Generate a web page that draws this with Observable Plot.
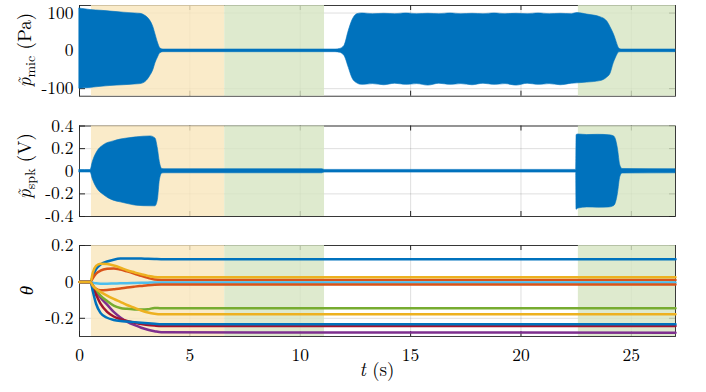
<!DOCTYPE html>
<html><head><meta charset="utf-8">
<script src="https://cdn.jsdelivr.net/npm/d3@7"></script>
<script src="https://cdn.jsdelivr.net/npm/@observablehq/plot@0.6"></script>
<style>
body{margin:0;background:#fff;}
#chart{position:relative;width:706px;height:392px;overflow:hidden;background:#fff;}
#chart svg{position:absolute;left:0;}
</style></head><body><div id="chart"></div>
<script>
// ---- axis ticks ----
const xTicks = [0, 5, 10, 15, 20, 25];
const xTickLabels = ["0", "5", "10", "15", "20", "25"];
const micTicks = [-100, 0, 100];
const micTickLabels = ["-100", "0", "100"];
const spkTicks = [-0.4, -0.2, 0, 0.2, 0.4];
const spkTickLabels = ["-0.4", "-0.2", "0", "0.2", "0.4"];
const thetaTicks = [-0.2, 0, 0.2];
const thetaTickLabels = ["-0.2", "0", "0.2"];

// ---- shaded phases (s) ----
const bandStart = [0.54, 6.58, 22.6];
const bandEnd = [6.58, 11.1, 27];
const bandPhase = ["adapt", "hold", "hold"];

// ---- microphone pressure envelope (Pa) ----
const micT  = [0, 0.25, 0.5, 1.0, 1.4, 2.0, 2.5, 2.76, 3.0, 3.2, 3.35, 3.44, 3.55, 3.67, 3.8,
  11.6, 11.8, 12.0, 12.2, 12.36, 12.58, 12.8, 13.3, 13.8, 14.3, 14.8, 15.3, 15.8, 16.3, 16.8, 17.3,
  17.8, 18.3, 18.8, 19.3, 19.8, 20.3, 20.8, 21.3, 21.8, 22.3, 22.55, 23.0, 23.6, 23.9, 24.06, 24.2,
  24.29, 24.38, 24.45, 24.55, 27];
const micHi = [112, 110, 108, 106, 104, 101, 99, 98, 92, 80, 62, 44, 22, 6, 3.5,
  3.5, 5, 13, 53, 80, 97, 99, 97, 98, 97, 99, 97, 98, 97, 99, 97,
  98, 97, 99, 97, 98, 97, 99, 97, 98, 97, 100, 96, 89, 78, 62, 45,
  31, 15, 6, 3.5, 3.5];
const micLo = [-100, -99, -98, -95, -93, -91, -89, -88, -82, -67, -50, -33, -18, -6, -3.5,
  -3.5, -5, -13, -45, -72, -86, -90, -88, -91, -87, -90, -88, -92, -87, -90, -88,
  -91, -87, -90, -88, -92, -87, -90, -88, -91, -87, -86, -84, -80, -71, -60, -33,
  -20, -9, -4, -3.5, -3.5];

// ---- loudspeaker voltage envelope (V) ----
const spkT  = [0, 0.5, 0.6, 0.8, 1.1, 1.55, 1.86, 2.31, 2.6, 3.22, 3.44, 3.55, 3.64, 3.75, 3.85,
  11.0, 11.1, 22.5, 22.52, 22.6, 23.0, 23.5, 24.0, 24.2, 24.3, 24.39, 24.5, 24.6, 27];
const spkHi = [0.011, 0.011, 0.08, 0.17, 0.23, 0.264, 0.28, 0.293, 0.3, 0.308, 0.29, 0.2, 0.08, 0.02, 0.018,
  0.018, 0.012, 0.012, 0.32, 0.325, 0.32, 0.322, 0.318, 0.31, 0.28, 0.2, 0.05, 0.02, 0.018];
const spkLo = [-0.011, -0.011, -0.07, -0.152, -0.21, -0.26, -0.275, -0.295, -0.305, -0.31, -0.31, -0.255, -0.08, -0.02, -0.018,
  -0.018, -0.012, -0.012, -0.34, -0.33, -0.32, -0.322, -0.32, -0.31, -0.28, -0.2, -0.05, -0.02, -0.018];

// ---- adaptive filter coefficients theta ----
const thetaT = [0, 0.5, 0.6, 0.75, 0.95, 1.25, 1.55, 1.85, 2.15, 2.5, 2.8, 3.1, 3.4, 3.7, 27];
const theta1  = [0, 0, 0.03, 0.07, 0.095, 0.112, 0.122, 0.128, 0.129, 0.129, 0.128, 0.127, 0.126, 0.125, 0.125];
const theta2  = [0, 0, 0.02, 0.045, 0.062, 0.072, 0.074, 0.068, 0.058, 0.045, 0.033, 0.022, 0.013, 0.011, 0.011];
const theta3  = [0, 0, 0.05, 0.088, 0.1, 0.098, 0.09, 0.078, 0.064, 0.052, 0.042, 0.033, 0.027, 0.026, 0.026];
const theta4  = [0, 0, -0.02, -0.05, -0.085, -0.125, -0.165, -0.195, -0.218, -0.238, -0.252, -0.263, -0.271, -0.277, -0.279];
const theta5  = [0, 0, -0.02, -0.045, -0.075, -0.105, -0.13, -0.143, -0.148, -0.151, -0.152, -0.15, -0.143, -0.145, -0.145];
const theta6  = [0, 0, -0.004, -0.008, -0.01, -0.01, -0.009, -0.008, -0.007, -0.006, -0.005, -0.004, -0.003, -0.003, -0.003];
const theta7  = [0, 0, -0.03, -0.07, -0.12, -0.165, -0.19, -0.205, -0.214, -0.224, -0.232, -0.237, -0.24, -0.242, -0.242];
const theta8  = [0, 0, -0.05, -0.12, -0.17, -0.197, -0.209, -0.215, -0.218, -0.221, -0.224, -0.227, -0.23, -0.233, -0.233];
const theta9  = [0, 0, -0.02, -0.038, -0.046, -0.044, -0.04, -0.036, -0.031, -0.026, -0.022, -0.018, -0.015, -0.014, -0.014];
const theta10 = [0, 0, -0.02, -0.04, -0.055, -0.075, -0.093, -0.11, -0.127, -0.143, -0.157, -0.168, -0.175, -0.178, -0.178];
const thetaAll = [theta1, theta2, theta3, theta4, theta5, theta6, theta7, theta8, theta9, theta10];
const lineColors = ["#0072BD", "#D95319", "#EDB120", "#7E2F8E", "#77AC30", "#4DBEEE", "#A2142F"];

// ---- build tables ----
const bands = bandStart.map((s, i) => ({start: s, end: bandEnd[i], phase: bandPhase[i]}));
const micData = micT.map((t, i) => ({t, hi: micHi[i], lo: micLo[i]}));
const spkData = spkT.map((t, i) => ({t, hi: spkHi[i], lo: spkLo[i]}));
const thetaData = thetaAll.map((s, k) => s.map((v, i) => ({t: thetaT[i], v, k})));

const W = 706, ML = 79, MR = 31, INNERW = W - ML - MR;
const AX = "#262626";
const FONT = "'Latin Modern Roman', 'Liberation Serif', serif";
const TICKFS = 17.5;

function panel({top, height, mt, mb, yDomain, yTicks, yLabels, data, showX}) {
  const innerH = height - mt - mb;
  const tly = (yDomain[1] - yDomain[0]) * 5 / innerH;
  const tlx = 27 * 6 / INNERW;
  const lab = d => yLabels[yTicks.findIndex(v => Math.abs(v - d) < 1e-9)];
  const marks = [
    Plot.gridX(xTicks.slice(1), {stroke: AX, strokeOpacity: 0.15}),
    Plot.gridY(yTicks, {stroke: AX, strokeOpacity: 0.15}),
    Plot.ruleX(xTicks, {x: d => d, y1: yDomain[0], y2: yDomain[0] + tly, stroke: AX}),
    Plot.ruleX(xTicks, {x: d => d, y1: yDomain[1], y2: yDomain[1] - tly, stroke: AX}),
    Plot.ruleY(yTicks, {y: d => d, x1: 0, x2: tlx, stroke: AX}),
    Plot.ruleY(yTicks, {y: d => d, x1: 27, x2: 27 - tlx, stroke: AX}),
    Plot.frame({stroke: AX, strokeWidth: 0.9}),
    Plot.rect(bands.filter(b => b.phase === "adapt"), {x1: "start", x2: "end", fill: "#f9e6bb", fillOpacity: 0.8}),
    Plot.rect(bands.filter(b => b.phase === "hold"), {x1: "start", x2: "end", fill: "#d6e5c2", fillOpacity: 0.8}),
    ...data,
    Plot.axisY(yTicks, {tickSize: 0, tickPadding: 6, tickFormat: lab, label: null, fill: "#000"})
  ];
  if (showX) marks.push(Plot.axisX(xTicks, {tickSize: 0, tickPadding: 12, label: null, fill: "#000",
    tickFormat: d => xTickLabels[xTicks.indexOf(d)]}));
  const svg = Plot.plot({
    width: W, height, marginLeft: ML, marginRight: MR, marginTop: mt, marginBottom: mb,
    x: {domain: [0, 27], axis: showX ? undefined : null},
    y: {domain: yDomain},
    style: `font-family: ${FONT}; font-size: ${TICKFS}px; background: transparent; overflow: visible; color: #000;`,
    marks
  });
  svg.setAttribute("font-family", FONT);
  svg.setAttribute("font-size", String(TICKFS));
  svg.style.top = top + "px";
  return svg;
}

const chart = document.getElementById("chart");

const p1 = panel({top: 0, height: 110, mt: 5, mb: 14.3, yDomain: [-120, 120], yTicks: micTicks, yLabels: micTickLabels,
  data: [Plot.areaY(micData, {x: "t", y1: "lo", y2: "hi", fill: "#0072BD", stroke: "#0072BD", strokeWidth: 0.6, curve: "monotone-x"})]});
chart.appendChild(p1);

const p2 = panel({top: 115, height: 110, mt: 10.5, mb: 9, yDomain: [-0.4, 0.4], yTicks: spkTicks, yLabels: spkTickLabels,
  data: [Plot.areaY(spkData, {x: "t", y1: "lo", y2: "hi", fill: "#0072BD", stroke: "#0072BD", strokeWidth: 0.6, curve: "monotone-x"})]});
chart.appendChild(p2);

const p3 = panel({top: 235, height: 157, mt: 10, mb: 56, yDomain: [-0.3, 0.2], yTicks: thetaTicks, yLabels: thetaTickLabels, showX: true,
  data: thetaData.map((s, k) => Plot.line(s, {x: "t", y: "v", stroke: lineColors[k % 7], strokeWidth: 2.5, curve: "monotone-x"}))});
chart.appendChild(p3);

// ---- axis titles ----
function ylab(svg, x, y, parts) {
  const t = d3.select(svg).append("text")
    .attr("transform", `translate(${x},${y}) rotate(-90)`)
    .attr("text-anchor", "middle").attr("font-family", FONT).attr("font-size", 19).attr("fill", "#000");
  for (const p of parts) {
    const s = t.append("tspan").text(p.text);
    if (p.italic) s.attr("font-style", "italic");
    if (p.dy) s.attr("dy", p.dy);
    if (p.size) s.attr("font-size", p.size);
  }
}
ylab(p1, 31, 50, [{text: "p\u0303", italic: true}, {text: "mic", dy: 4, size: 14}, {text: " (Pa)", dy: -4}]);
ylab(p2, 31, 51, [{text: "p\u0303", italic: true}, {text: "spk", dy: 4, size: 14}, {text: " (V)", dy: -4}]);
ylab(p3, 33, 55.5, [{text: "\u03b8", italic: true}]);

d3.select(p3).append("text").attr("x", 377).attr("y", 141).attr("text-anchor", "middle")
  .attr("font-family", FONT).attr("font-size", 19).attr("fill", "#000")
  .call(t => { t.append("tspan").attr("font-style", "italic").text("t"); t.append("tspan").text(" (s)"); });
</script></body></html>
